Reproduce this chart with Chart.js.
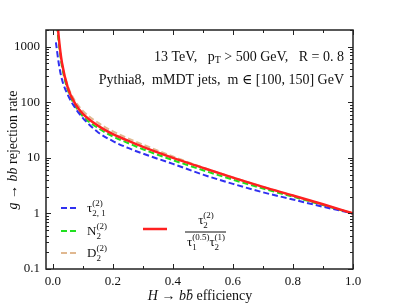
<!DOCTYPE html>
<html>
<head>
<meta charset="utf-8">
<script src="https://cdn.jsdelivr.net/npm/chart.js@4.4.0/dist/chart.umd.min.js"></script>
<style>
  body { margin: 0; background: #fff; }
  canvas { display: block; }
</style>
</head>
<body>
<canvas id="myChart" width="393" height="308"></canvas>
<script>
// signal efficiency (x) and background rejection (y)
const effic = [0.01, 0.02, 0.03, 0.05, 0.075, 0.1, 0.15, 0.2, 0.25, 0.3, 0.4, 0.5, 0.6, 0.7, 0.8, 0.9, 1.0]
const tau21 = [1200, 480, 260, 135, 78, 52, 29, 20, 15.1, 11.9, 7.8, 5.0, 3.4, 2.4, 1.78, 1.32, 1.0]
const n2    = [3500, 1150, 450, 165, 85, 56, 34.5, 24.3, 18.5, 14.3, 9.1, 6.0, 4.05, 2.8, 2.0, 1.41, 1.0]
const d2    = [3500, 1200, 500, 195, 103, 70, 43, 30, 22.5, 17.3, 10.6, 6.7, 4.45, 3.0, 2.08, 1.44, 1.0]
const ratio = [6000, 1400, 520, 180, 93, 62, 38, 26.7, 20.4, 15.8, 10, 6.6, 4.4, 3.0, 2.1, 1.46, 1.0]

const xTicks = [0, 0.2, 0.4, 0.6, 0.8, 1.0]
const yTicks = [0.1, 1, 10, 100, 1000]
const yTickLabels = ['0.1', '1', '10', '100', '1000']

const SERIF = '"Liberation Serif", "DejaVu Serif", serif'

let pts = (ys) => effic.map((x, i) => ({ x: x, y: ys[i] }))

function font(size, it) {
    return (it ? 'italic ' : '') + size + 'px ' + SERIF
}

// draw a row of text pieces; a piece may carry a stacked sup/sub
function drawRow(ctx, parts, x, y, align) {
    let w = 0
    parts.forEach(p => {
        if (p.sup != null || p.sub != null) {
            ctx.font = font(p.s || 9)
            p.w = Math.max(ctx.measureText(p.sup || '').width, ctx.measureText(p.sub || '').width)
        } else {
            ctx.font = font(p.s || 14, p.it)
            p.w = ctx.measureText(p.t).width
        }
        w += p.w
    })
    let cx = align == 'right' ? x - w : (align == 'center' ? x - w / 2 : x)
    ctx.textBaseline = 'alphabetic'
    ctx.textAlign = 'left'
    parts.forEach(p => {
        if (p.sup != null || p.sub != null) {
            ctx.font = font(p.s || 9)
            if (p.sup) ctx.fillText(p.sup, cx, y - 6)
            if (p.sub) ctx.fillText(p.sub, cx, y + 4)
        } else {
            ctx.font = font(p.s || 14, p.it)
            ctx.fillText(p.t, cx, y + (p.dy || 0))
            if (p.bar) {
                ctx.fillRect(cx + 1.5, y - 10.5, p.w - 2.5, 1)
            }
        }
        cx += p.w
    })
    return w
}

const frame = {
    id: 'frame',
    afterDraw(chart) {
        const ctx = chart.ctx
        const a = chart.chartArea
        const xs = chart.scales.x
        const ys = chart.scales.y
        ctx.save()
        ctx.strokeStyle = '#222'
        ctx.lineWidth = 1.5
        ctx.strokeRect(a.left, a.top, a.right - a.left, a.bottom - a.top)
        ctx.lineWidth = 1
        // x ticks, inward on top and bottom
        for (let v = 0; v <= 1.0001; v += 0.1) {
            let px = Math.round(xs.getPixelForValue(v)) + 0.5
            let len = (Math.round(v * 10) % 2 == 0) ? 5 : 3
            ctx.beginPath()
            ctx.moveTo(px, a.bottom); ctx.lineTo(px, a.bottom - len)
            ctx.moveTo(px, a.top); ctx.lineTo(px, a.top + len)
            ctx.stroke()
        }
        // y ticks, log minors
        for (let d = -1; d <= 3; d++) {
            for (let m = 1; m <= 9; m++) {
                let v = m * Math.pow(10, d)
                if (v > 2000) break
                let py = Math.round(ys.getPixelForValue(v)) + 0.5
                let len = m == 1 ? 5 : 3
                ctx.beginPath()
                ctx.moveTo(a.left, py); ctx.lineTo(a.left + len, py)
                ctx.moveTo(a.right, py); ctx.lineTo(a.right - len, py)
                ctx.stroke()
            }
        }

        ctx.fillStyle = '#111'
        // info text
        drawRow(ctx, [{ t: '13 TeV,   ' }, { t: 'p' }, { t: 'T', s: 10, dy: 2 }, { t: ' > 500 GeV,   R = 0. 8' }], 344, 61, 'right')
        drawRow(ctx, [{ t: 'Pythia8,  mMDT jets,  m \u2208 [100, 150] GeV' }], 344, 84, 'right')

        // legend
        let leg = [['#3030f0', 208, 'τ', '(2)', '2, 1'], ['#20e020', 231, 'N', '(2)', '2'], ['#e0b890', 253, 'D', '(2)', '2']]
        leg.forEach(l => {
            ctx.strokeStyle = l[0]
            ctx.lineWidth = 2
            ctx.setLineDash([6, 3])
            ctx.beginPath(); ctx.moveTo(61, l[1]); ctx.lineTo(76, l[1]); ctx.stroke()
            ctx.setLineDash([])
            drawRow(ctx, [{ t: l[2], s: 13 }, { sup: l[3], sub: l[4] }], 87, l[1] + 4, 'left')
        })
        ctx.strokeStyle = '#ff2020'
        ctx.lineWidth = 2.5
        ctx.beginPath(); ctx.moveTo(143, 229); ctx.lineTo(167, 229); ctx.stroke()
        drawRow(ctx, [{ t: 'τ', s: 13 }, { sup: '(2)', sub: '2' }], 206, 224, 'center')
        ctx.fillRect(185, 231.5, 41, 1)
        drawRow(ctx, [{ t: 'τ', s: 13 }, { sup: '(0.5)', sub: '1' }, { t: 'τ', s: 13 }, { sup: '(1)', sub: '2' }], 206, 246, 'center')

        // axis titles
        drawRow(ctx, [{ t: 'H', it: true }, { t: ' \u2192 ' }, { t: 'b', it: true }, { t: 'b', it: true, bar: true }, { t: ' efficiency' }], 200, 300, 'center')
        ctx.translate(17, 150)
        ctx.rotate(-Math.PI / 2)
        drawRow(ctx, [{ t: 'g', it: true }, { t: ' \u2192 ' }, { t: 'bb', it: true }, { t: ' rejection rate' }], 0, 0, 'center')
        ctx.restore()
    }
}

let ds = (label, ys, color, dash, w) => ({
    label: label,
    data: pts(ys),
    borderColor: color,
    borderWidth: w,
    borderDash: dash,
    pointRadius: 0,
    fill: false,
    cubicInterpolationMode: 'monotone'
})

const config = {
    type: 'line',
    data: {
        datasets: [
            ds('ratio', ratio, '#ff2020', [], 2.5),
            ds('tau21', tau21, '#3030f0', [6, 3], 2),
            ds('N2', n2, '#20e020', [6, 3], 2),
            ds('D2', d2, '#e0b890', [6, 3], 2)
        ]
    },
    options: {
        responsive: false,
        devicePixelRatio: 1,
        animation: false,
        layout: { padding: { top: 30, right: 40, left: 0, bottom: 0 } },
        plugins: { legend: { display: false }, tooltip: { enabled: false } },
        scales: {
            x: {
                type: 'linear',
                min: -0.023,
                max: 1.0,
                grid: { display: false, drawTicks: false },
                border: { display: false },
                afterBuildTicks: (s) => { s.ticks = xTicks.map(v => ({ value: v })) },
                afterFit: (s) => { s.height = 39 },
                ticks: {
                    padding: 5,
                    maxRotation: 0,
                    color: '#111',
                    font: { family: SERIF, size: 13 },
                    callback: (v) => v.toFixed(1)
                }
            },
            y: {
                type: 'logarithmic',
                min: 0.1,
                max: 2000,
                grid: { display: false, drawTicks: false },
                border: { display: false },
                afterBuildTicks: (s) => { s.ticks = yTicks.map(v => ({ value: v })) },
                afterFit: (s) => { s.width = 46 },
                ticks: {
                    padding: 6,
                    color: '#111',
                    font: { family: SERIF, size: 13 },
                    callback: (v) => yTickLabels[yTicks.indexOf(v)]
                }
            }
        }
    },
    plugins: [frame]
}

var myChart = new Chart(document.getElementById('myChart'), config)
</script>
</body>
</html>
